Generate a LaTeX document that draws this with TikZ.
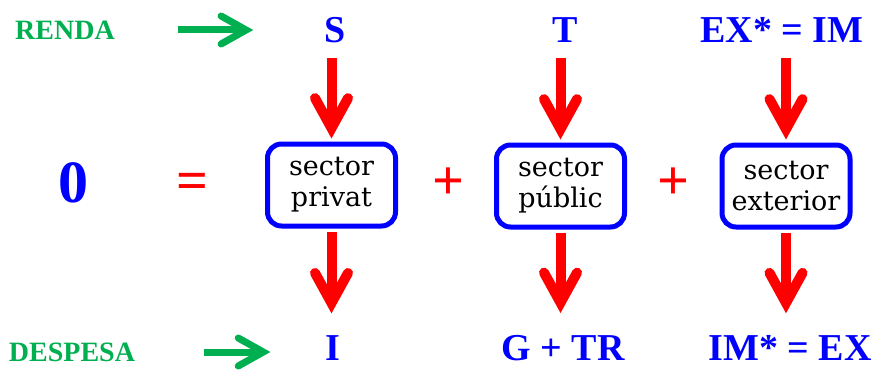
\documentclass[tikz,border=0pt]{standalone}
\usepackage{fontspec}
\setmainfont{Liberation Serif}
\newfontfamily\boxfont{DejaVu Serif}
\usetikzlibrary{arrows.meta}
\definecolor{tblue}{RGB}{0,0,255}
\definecolor{tred}{RGB}{255,0,0}
\definecolor{tgreen}{RGB}{0,176,80}
\begin{document}
\begin{tikzpicture}[x=1pt,y=-1pt,
  lbl/.style={text=tgreen, font=\fontsize{28}{30}\selectfont\bfseries, inner sep=0pt},
  var/.style={text=tblue, font=\fontsize{38}{40}\selectfont\bfseries, inner sep=0pt},
  sectorbox/.style={draw=tblue, line width=5pt, rounded corners=14pt, minimum width=128pt, minimum height=82pt, align=center, font=\boxfont\fontsize{27}{31}\selectfont, inner sep=0pt},
  op/.style={text=tred, font=\fontsize{56}{58}\selectfont\bfseries, inner sep=0pt},
  redarrow/.style={draw=tred, line width=10pt, -{Straight Barb[length=30pt, width=33pt, line cap=round, line join=miter]}},
  greenarrow/.style={draw=tgreen, line width=7pt, -{Straight Barb[length=25pt, width=28pt, line cap=round, line join=miter]}}
]
\useasboundingbox (0,0) rectangle (874,369);

\node[lbl] (renda) at (65,30) {RENDA};
\node[lbl] (despesa) at (72,352) {DESPESA};

\node[var] (S) at (335,30) {S};
\node[var] (T) at (565,30) {T};
\node[var] (EX) at (782,30) {EX* = IM};

\node[var, font=\fontsize{60}{62}\selectfont\bfseries] (zero) at (73,183) {0};
\node[op] (eq) at (192,186) {=};
\node[op] (plus1) at (448,184) {+};
\node[op] (plus2) at (673,184) {+};

\node[sectorbox] (privat) at (331.5,185) {sector\\privat};
\node[sectorbox] (public) at (560.5,186) {sector\\públic};
\node[sectorbox] (exterior) at (786,186) {sector\\exterior};

\node[var] (I) at (333,348) {I};
\node[var] (G) at (563,348) {G + TR};
\node[var] (IM) at (790,348) {IM* = EX};

\draw[greenarrow, shorten <=63pt, shorten >=71pt] (renda.east) -- (renda.east -| S.west);
\draw[greenarrow, shorten <=69pt, shorten >=55pt] (despesa.east) -- (despesa.east -| I.west);

\draw[redarrow, shorten <=15pt, shorten >=3pt] (S.south -| privat.north) -- (privat.north);
\draw[redarrow, shorten <=15pt, shorten >=3pt] (T.south -| public.north) -- (public.north);
\draw[redarrow, shorten <=15pt, shorten >=3pt] (EX.south -| exterior.north) -- (exterior.north);

\draw[redarrow, shorten <=3pt, shorten >=22pt] (privat.south) -- (privat.south |- I.north);
\draw[redarrow, shorten <=3pt, shorten >=22pt] (public.south) -- (public.south |- G.north);
\draw[redarrow, shorten <=3pt, shorten >=22pt] (exterior.south) -- (exterior.south |- IM.north);
\end{tikzpicture}
\end{document}
